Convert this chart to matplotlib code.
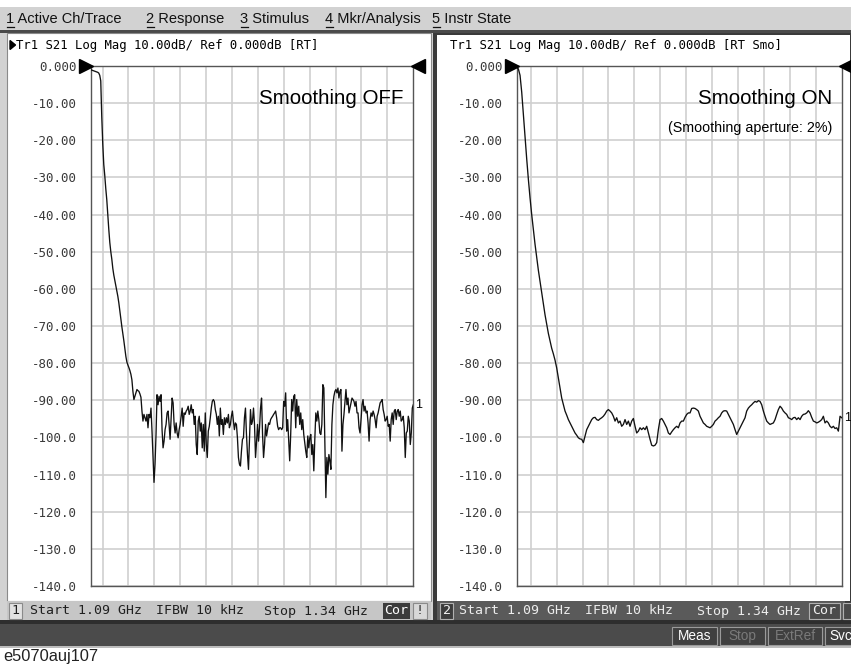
import numpy as np
import matplotlib
matplotlib.use("Agg")
import matplotlib.pyplot as plt
from matplotlib.patches import Rectangle, Polygon
from matplotlib.transforms import offset_copy

# ---------------- data ----------------
start_ghz = 1.09
stop_ghz = 1.34
y_ticks = [0, -10, -20, -30, -40, -50, -60, -70, -80, -90, -100, -110, -120, -130, -140]
y_tick_labels = ["0.000", "-10.00", "-20.00", "-30.00", "-40.00", "-50.00", "-60.00",
                 "-70.00", "-80.00", "-90.00", "-100.0", "-110.0", "-120.0", "-130.0", "-140.0"]

menu_items = ["1 Active Ch/Trace", "2 Response", "3 Stimulus", "4 Mkr/Analysis", "5 Instr State"]
header_left = "Tr1 S21 Log Mag 10.00dB/ Ref 0.000dB [RT]"
header_right = "Tr1 S21 Log Mag 10.00dB/ Ref 0.000dB [RT Smo]"
status_start = "Start 1.09 GHz"
status_ifbw = "IFBW 10 kHz"
status_stop = "Stop 1.34 GHz"

# Smoothing OFF trace (dB), swept linearly from start to stop
trace_off_db = [
    -1.0, -1.1, -1.2, -1.3, -1.4, -1.5, -1.6, -1.7, -1.9, -2.5,
    -4.0, -13.6, -21.0, -26.5, -29.5, -33.0, -36.0, -40.0, -44.0, -47.5,
    -50.0, -52.0, -54.5, -56.3, -57.7, -59.2, -60.6, -62.0, -63.8, -66.0,
    -68.0, -70.2, -72.0, -74.0, -76.0, -78.2, -79.7, -80.5, -81.2, -82.0,
    -83.0, -84.5, -87.6, -89.8,
    -88.9, -88.0, -87.1, -87.4, -87.6, -88.3, -89.2, -92.9, -95.6, -93.8,
    -94.7, -95.6, -93.8, -97.4, -93.8, -94.7, -92.1, -98.3, -105.4, -112.1,
    -107.2, -99.2, -88.5,
    -91.2, -88.9, -90.3, -88.5, -97.9, -102.8, -101.0, -97.9, -96.5, -93.4,
    -92.9, -96.5, -100.5, -95.2, -89.4, -90.7, -96.5, -98.8, -96.1, -98.8,
    -100.1, -97.9, -96.5, -94.3, -92.1, -97.0, -93.4, -93.8, -92.9, -92.5,
    -91.6, -93.8, -92.9, -91.2, -93.4, -92.5, -96.5, -94.3, -101.9, -104.6,
    -95.6, -94.3, -98.3, -96.1, -102.8, -96.5, -103.7, -93.4, -101.9, -105.4,
    -98.3, -97.0, -94.7, -92.1, -90.3, -89.8, -90.3, -92.5, -93.8, -96.5,
    -94.3, -99.6, -92.1, -96.5, -95.2, -99.2, -94.7, -96.5, -94.7, -96.1,
    -93.8, -97.4, -96.5, -94.3, -92.9, -95.6, -97.9, -96.1, -96.5, -100.1,
    -105.4, -107.2, -107.7, -103.7, -100.5, -100.1, -94.7, -92.1, -99.2, -104.6,
    -108.6, -100.5, -92.5, -96.5, -95.6, -92.1, -96.5, -105.4, -101.4, -96.5,
    -101.0, -97.4, -92.1, -89.4, -99.2, -105.4, -101.9, -96.5, -99.6, -97.9,
    -96.1, -96.5, -95.2, -94.7, -94.3, -93.8, -93.4, -92.9, -94.7, -97.0,
    -97.9, -97.4, -97.4, -97.9, -97.4, -90.3, -91.6, -88.0, -98.3, -95.2,
    -101.0, -106.3, -99.2, -89.8, -92.9, -88.9, -88.5, -97.4, -89.8, -94.3,
    -91.6, -96.5, -93.4, -97.9, -95.2, -99.2, -101.4, -103.7, -105.4, -99.6,
    -102.8, -100.1, -99.2, -104.6, -101.9, -109.0, -100.5, -93.4, -95.6, -92.9,
    -95.2, -98.8, -99.2, -96.5, -85.8, -86.7, -101.4, -116.2, -105.4, -109.9,
    -104.6, -106.3, -108.6, -96.5, -91.2, -88.9, -87.6, -87.1, -88.0, -86.7,
    -89.4, -87.6, -87.1, -103.7, -96.5, -93.8, -90.3, -87.1, -91.2, -89.4,
    -93.4, -92.1, -90.7, -89.4, -89.8, -90.3, -91.6, -90.3, -93.4, -93.4,
    -97.4, -98.8, -95.2, -91.2, -89.8, -92.9, -91.6, -93.4, -92.9, -96.1,
    -101.0, -95.2, -93.4, -94.3, -92.9, -93.8, -95.2, -97.4, -94.3, -93.4,
    -92.1, -90.7, -90.3, -89.8, -92.5, -93.8, -95.6, -95.2, -94.3, -97.0,
    -96.5, -101.0, -95.2, -93.4, -96.5, -92.9, -92.5, -95.2, -92.9, -92.5,
    -94.3, -92.9, -95.6, -95.2, -94.3, -97.4, -105.4, -98.8, -98.3, -94.3,
    -95.6, -101.9, -98.8, -92.1, -91.2,
]

# Smoothing ON trace (dB), swept linearly from start to stop
trace_on_db = [
    -0.3, -0.8, -2.5, -7.0, -13.0, -19.0, -25.0, -30.5, -35.5, -40.0,
    -44.0, -48.0, -51.5, -55.0, -58.0, -61.0, -64.0, -67.0, -69.5, -72.0,
    -74.0, -76.0, -77.5, -79.2,
    -81.3, -84.0, -86.7, -89.4, -91.2, -92.9, -94.0, -95.2, -96.1, -97.0,
    -97.9, -98.8, -99.4, -100.1, -100.4, -100.5, -101.4, -99.6, -97.9, -97.0,
    -96.1, -95.2, -94.7, -94.6, -95.2, -95.4, -95.0, -94.7, -94.3, -93.7,
    -92.9, -92.5, -92.9, -93.4, -94.3, -95.6, -94.7, -96.1, -95.6, -97.0,
    -96.5, -95.2, -96.5, -95.6, -97.0, -95.6, -94.9, -97.0, -98.8, -98.3,
    -97.4, -97.9, -97.4, -97.9, -97.0, -98.8, -100.5, -102.1, -102.3, -102.1,
    -101.4, -97.9, -95.2, -94.9, -95.6, -96.5, -97.4, -98.8, -99.2, -98.5,
    -97.9, -97.4, -97.0, -97.4, -96.1, -95.6, -95.6, -94.6, -93.8, -93.4,
    -93.4, -92.2, -92.1, -92.2, -92.5, -92.9, -94.3, -95.2, -96.1, -96.5,
    -97.0, -97.2, -97.4, -97.0, -96.5, -95.6, -95.2, -94.7, -94.3, -93.4,
    -92.9, -92.8, -92.9, -93.8, -94.7, -95.6, -96.5, -97.9, -99.2, -98.3,
    -97.4, -96.5, -95.6, -94.7, -92.9, -92.1, -91.6, -91.2, -90.7, -90.3,
    -90.5, -90.1, -90.3, -91.2, -92.9, -94.3, -95.6, -96.1, -96.5, -96.3,
    -96.1, -95.2, -93.8, -92.5, -91.6, -92.1, -92.9, -93.4, -93.8, -94.7,
    -94.9, -95.2, -94.7, -94.6, -95.2, -94.7, -95.2, -94.3, -93.8, -93.7,
    -93.4, -92.8, -93.4, -94.6, -95.6, -95.8, -96.1, -95.9, -95.6, -95.2,
    -94.3, -96.1, -95.6, -96.1, -97.0, -97.4, -97.0, -97.6, -97.4, -98.3,
    -94.3, -94.7,
]

# ---------------- figure ----------------
W, H = 851, 664
fig = plt.figure(figsize=(W / 100, H / 100), dpi=100)
fig.patch.set_facecolor("white")

bg = fig.add_axes([0, 0, 1, 1], zorder=0)
bg.set_xlim(0, W)
bg.set_ylim(H, 0)
bg.axis("off")

MONO = ["DejaVu Sans Mono", "DejaVu Sans"]
SANS = ["Liberation Sans", "DejaVu Sans"]


def rect(x0, y0, x1, y1, fc, ec="none", lw=0.0):
    bg.add_patch(Rectangle((x0, y0), x1 - x0, y1 - y0, facecolor=fc,
                           edgecolor=ec, linewidth=lw))


def txt(x, y, s, **kw):
    bg.text(x, y, s, **kw)


# menu bar
rect(0, 7, W, 30, "#d2d2d2")
rect(0, 29.5, W, 32.5, "#4a4a4a")
rect(0, 32.5, W, 624, "#d2d2d2")
menu_x = [6, 146, 240, 325, 432]
for mx, item in zip(menu_x, menu_items):
    bg.text(mx, 19, item, fontsize=10.5, family=SANS, color="#111111",
            ha="left", va="center")
    bg.plot([mx + 0.5, mx + 7.5], [26.5, 26.5], color="#111111", lw=0.9)

# left window
rect(7, 33, 431, 601, "white", ec="#8a8a8a", lw=0.8)
rect(7, 601, 431, 620, "#c6c6c6")
# right window (active) with dark frame
rect(433, 32.5, W, 623, "#3a3a3a")
rect(437, 35, 849.5, 601, "white")
rect(437, 601, 845, 620, "#5a5a5a")

# bottom dark bar
rect(0, 620, W, 623.5, "#2e2e2e")
rect(0, 623.5, W, 646, "#4b4b4b")
rect(0, 646, W, 647.5, "#bdbdbd")

# header lines
bg.add_patch(Polygon([[10, 40.5], [10, 49.5], [15.5, 45]], closed=True, color="black"))
txt(16, 45.5, header_left, fontsize=8.8, family=MONO, color="black", ha="left", va="center")
txt(450, 45.5, header_right, fontsize=8.8, family=MONO, color="black", ha="left", va="center")

# status bars
sy = 611
rect(8.5, 602.5, 22, 619, "#e2e2e2", ec="#8a8a8a", lw=0.8)
txt(15.2, sy, "1", fontsize=9.5, family=MONO, color="#202020", ha="center", va="center")
txt(30, sy, status_start, fontsize=9.5, family=MONO, color="#202020", ha="left", va="center")
txt(156, sy, status_ifbw, fontsize=9.5, family=MONO, color="#202020", ha="left", va="center")
txt(264, sy, status_stop, fontsize=9.5, family=MONO, color="#202020", ha="left", va="center")
rect(383, 602.5, 410, 619, "#3c3c3c")
txt(396.5, sy, "Cor", fontsize=9.5, family=MONO, color="white", ha="center", va="center")
rect(413, 602.5, 427, 619, "#d8d8d8", ec="#8a8a8a", lw=0.8)
txt(420, sy, "!", fontsize=9.5, family=MONO, color="#202020", ha="center", va="center")

rect(440, 602.5, 453, 619, "#3c3c3c", ec="#b0b0b0", lw=0.8)
txt(446.5, sy, "2", fontsize=9.5, family=MONO, color="#f0f0f0", ha="center", va="center")
txt(459, sy, status_start, fontsize=9.5, family=MONO, color="#ececec", ha="left", va="center")
txt(585, sy, status_ifbw, fontsize=9.5, family=MONO, color="#ececec", ha="left", va="center")
txt(697, sy, status_stop, fontsize=9.5, family=MONO, color="#ececec", ha="left", va="center")
rect(809, 602.5, 840, 619, "#4a4a4a", ec="#b0b0b0", lw=0.8)
txt(824.5, sy, "Cor", fontsize=9.5, family=MONO, color="#f0f0f0", ha="center", va="center")
rect(843, 602.5, 853, 619, "#4a4a4a", ec="#b0b0b0", lw=0.8)

# bottom buttons
by = 636
buttons = [(672, 717, "Meas", "#ffffff"), (720, 765, "Stop", "#7a7a7a"),
           (768, 822, "ExtRef", "#7a7a7a"), (825, 856, "Svc", "#ffffff")]
for x0, x1, label, c in buttons:
    rect(x0, 627, x1, 645, "#404040", ec="#9a9a9a", lw=0.8)
    txt(x0 + 4 if label == "Svc" else (x0 + x1) / 2, by, label, fontsize=9.8,
        family=SANS, color=c, ha="left" if label == "Svc" else "center", va="center")

# caption
txt(3, 657, "e5070auj107", fontsize=11.8, family=SANS, color="#222222", ha="left", va="center")


def panel(x0_px, x1_px, grid_first_px, grid_step_px, freqs, db, note, note2=None):
    y0_px, y1_px = 66, 586
    ax = fig.add_axes([x0_px / W, (H - y1_px) / H, (x1_px - x0_px) / W, (y1_px - y0_px) / H],
                      zorder=2)
    ax.set_facecolor("white")
    span = stop_ghz - start_ghz
    width = x1_px - x0_px
    gx = [start_ghz + (grid_first_px + k * grid_step_px) / width * span for k in range(12)]
    ax.set_xlim(start_ghz, stop_ghz)
    ax.set_ylim(-140, 0)
    ax.set_xticks(gx)
    ax.set_xticklabels([])
    ax.set_yticks(y_ticks)
    ax.set_yticklabels(y_tick_labels, family=MONO, fontsize=9, color="#3a3a3a")
    ax.tick_params(axis="both", length=0)
    ax.tick_params(axis="y", pad=9.8)
    ax.grid(True, color="#cfcfcf", lw=1.2)
    ax.set_axisbelow(True)
    for s in ax.spines.values():
        s.set_color("#555555")
        s.set_linewidth(1.0)
    ax.plot(freqs, db, color="#111111", lw=0.95, zorder=3)
    # reference-level triangles
    ax.plot([start_ghz], [0], marker=">", ms=9.5, color="black", clip_on=False, zorder=5,
            transform=offset_copy(ax.transData, fig=fig, x=-4.5, y=0, units="dots"))
    ax.plot([stop_ghz], [0], marker="<", ms=9.5, color="black", clip_on=False, zorder=5,
            transform=offset_copy(ax.transData, fig=fig, x=4.5, y=0, units="dots"))
    ax.annotate("1", xy=(freqs[-1], db[-1]), xytext=(2, 0), textcoords="offset pixels",
                ha="left", va="center", fontsize=9, family=SANS, annotation_clip=False)
    ax.text(0.97, 0.938, note, transform=ax.transAxes, ha="right", va="center",
            fontsize=14.8, family=SANS, color="black")
    if note2:
        ax.text(0.97, 0.88, note2, transform=ax.transAxes, ha="right", va="center",
                fontsize=10.3, family=SANS, color="black")
    return ax


f_off = np.linspace(start_ghz, stop_ghz, len(trace_off_db))
f_on = np.linspace(start_ghz, stop_ghz, len(trace_on_db))
panel(90.7, 413.3, 11.9, 25.89, f_off, trace_off_db, "Smoothing OFF")
panel(516.7, 841.7, 14.0, 25.92, f_on, trace_on_db, "Smoothing ON", "(Smoothing aperture: 2%)")

fig.savefig("out.png", dpi=100)
